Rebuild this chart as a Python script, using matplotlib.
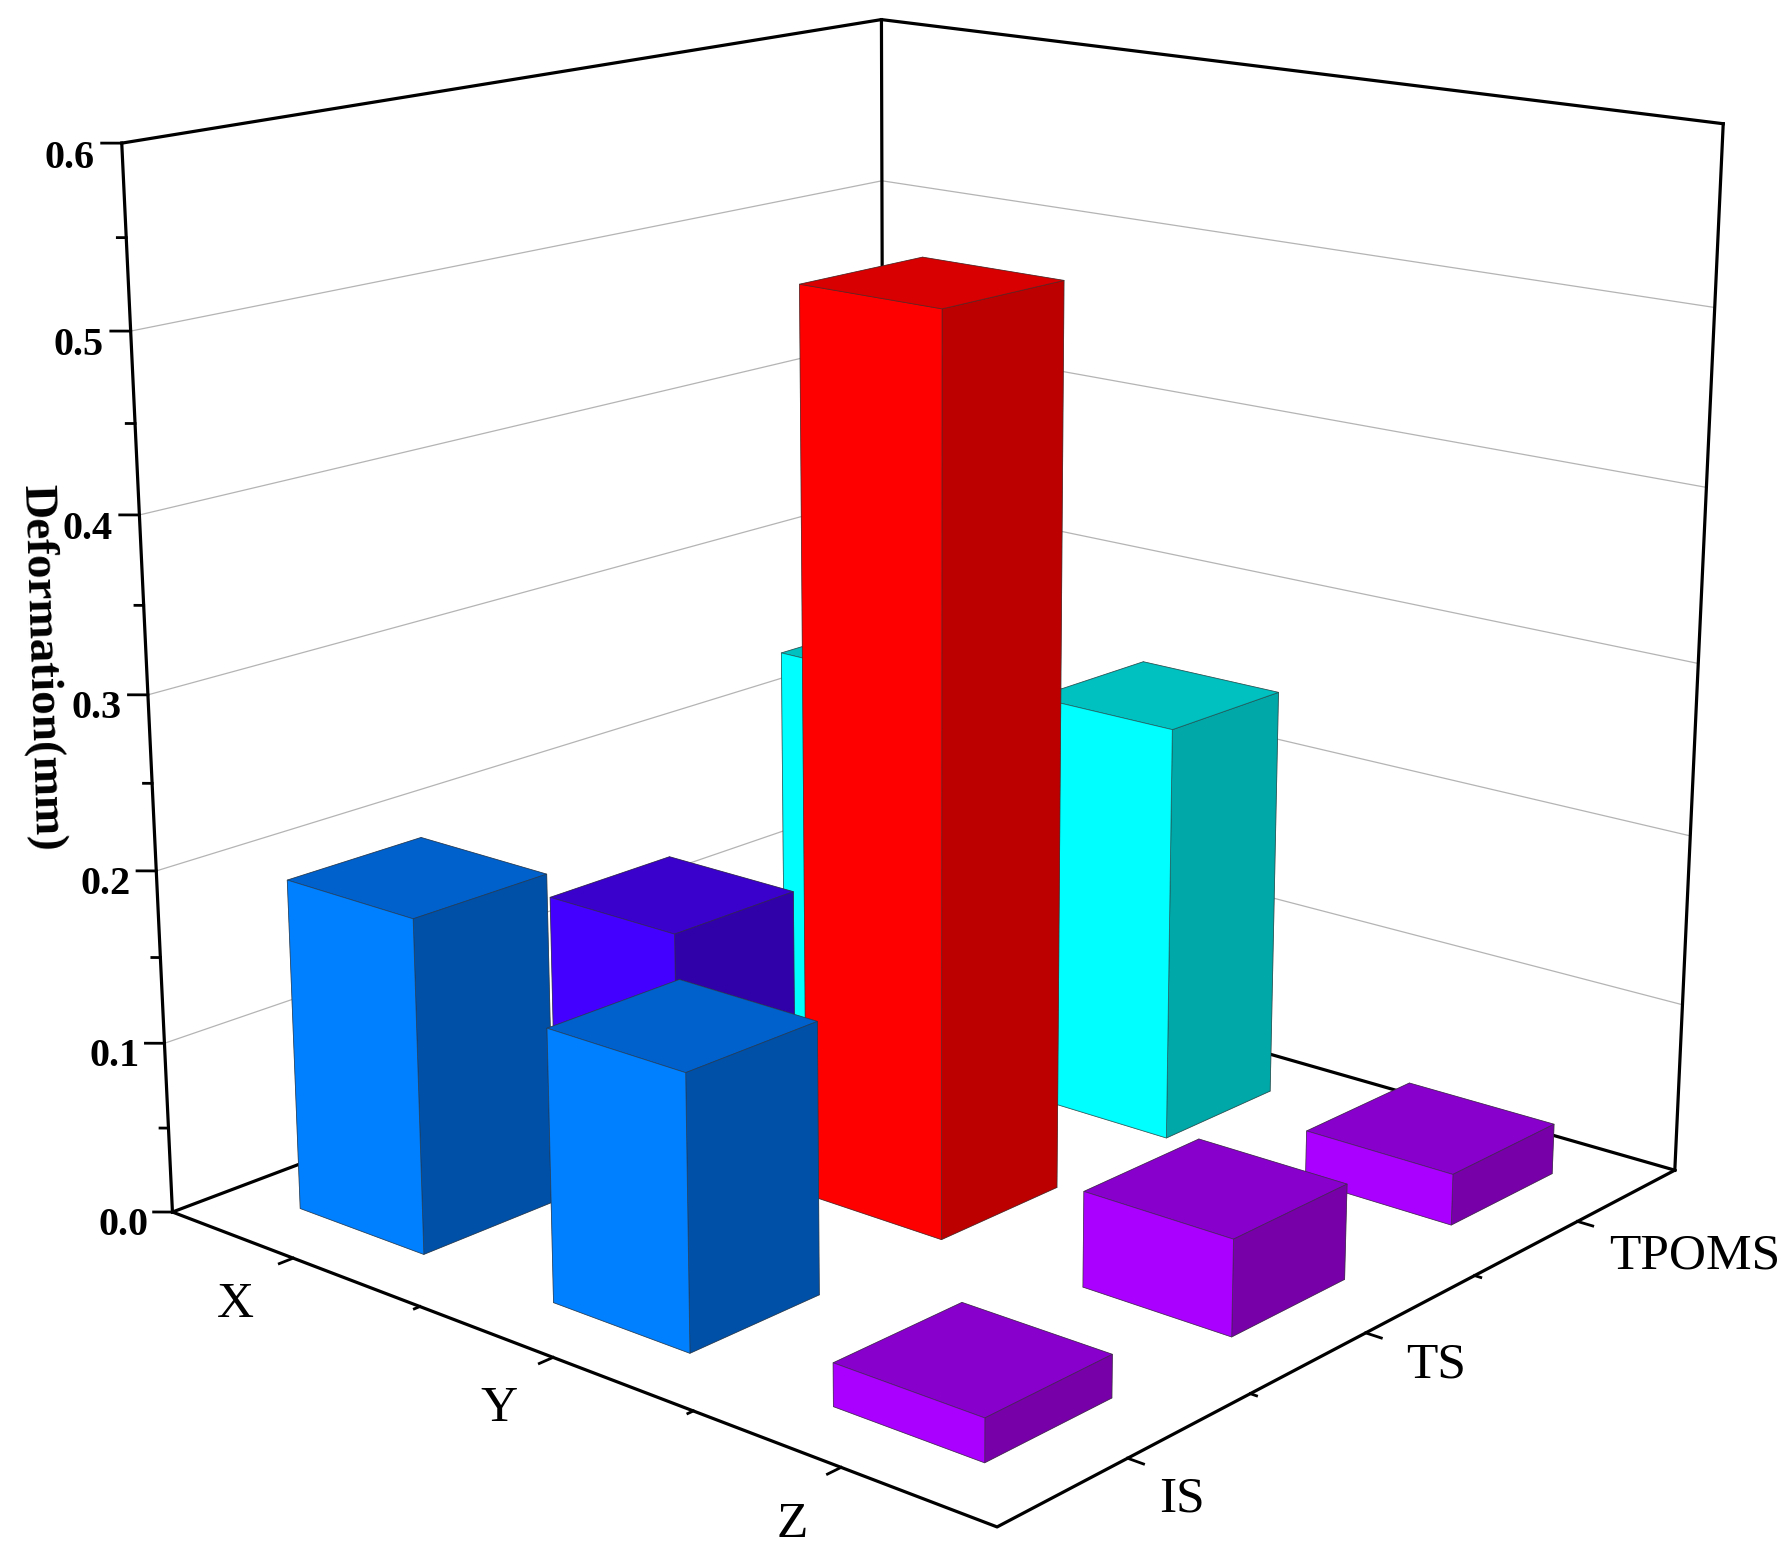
import matplotlib
matplotlib.use("Agg")
import matplotlib.pyplot as plt

plt.rcParams["font.family"] = ["Liberation Serif", "DejaVu Serif"]

# ── Data ──────────────────────────────────────────────────────
directions = ["X", "Y", "Z"]
structures = ["IS", "TS", "TPOMS"]
x_pos = [1, 2, 3]
y_pos = [1, 2, 3]
deform_x = [0.193, 0.132, 0.237]
deform_y = [0.155, 0.520, 0.247]
deform_z = [0.024, 0.055, 0.030]
z_major = [0.0, 0.1, 0.2, 0.3, 0.4, 0.5, 0.6]
z_minor = [0.05, 0.15, 0.25, 0.35, 0.45, 0.55]
x_minor = [1.5, 2.5]
y_minor = [1.5, 2.5]

# (front, top, side) colours for each bar
blue = ("#0080FF", "#0060CC", "#0050A8")
indigo = ("#4400FF", "#3A00CC", "#3000A8")
cyan = ("#00FFFF", "#00C0C0", "#00A8A8")
red = ("#FF0000", "#D80000", "#BC0000")
purple = ("#AA00FF", "#8800CC", "#7700A8")
colors_x = [blue, indigo, cyan]
colors_y = [blue, red, cyan]
colors_z = [purple, purple, purple]

bar_w = 0.5
xlim = (0.5, 3.5)
ylim = (0.5, 3.5)
zlim = (0.0, 0.6)

W = 1848  # axes size in pixels
fig = plt.figure(figsize=(17.84, 15.55), dpi=100)
cx, cy = 932, 679  # where the box centre lands (px from top left)
ax = fig.add_axes(
    [(cx - 0.5135 * W) / 1784, (1555 - cy - 0.5135 * W) / 1555, W / 1784, W / 1555],
    projection="3d",
    proj_type="persp",
    focal_length=0.475,
    computed_zorder=False,
)
ax.view_init(elev=16, azim=-49.2)
ax.set_box_aspect((1, 1, 1))
ax.set_xlim(*xlim)
ax.set_ylim(*ylim)
ax.set_zlim(*zlim)
ax.set_axis_off()
ax.patch.set_alpha(0)

# Grid on the back walls
for z in z_major[1:-1]:
    ax.plot([xlim[0], xlim[0], xlim[1]], [ylim[0], ylim[1], ylim[1]], [z, z, z],
            color="#b4b4b4", lw=0.9, zorder=1)

# Frame
frame_kw = dict(color="black", lw=2.3, zorder=2, solid_capstyle="projecting")
ax.plot([xlim[0], xlim[0]], [ylim[0], ylim[0]], zlim, **frame_kw)
ax.plot([xlim[0], xlim[0]], [ylim[1], ylim[1]], zlim, **frame_kw)
ax.plot([xlim[1], xlim[1]], [ylim[1], ylim[1]], zlim, **frame_kw)
ax.plot([xlim[0], xlim[0], xlim[1]], [ylim[0], ylim[1], ylim[1]], [zlim[1]] * 3, **frame_kw)
ax.plot([xlim[0], xlim[1], xlim[1]], [ylim[0], ylim[0], ylim[1]], [0, 0, 0], **frame_kw)
ax.plot([xlim[0], xlim[0], xlim[1]], [ylim[0], ylim[1], ylim[1]], [0, 0, 0], **frame_kw)

# Ticks
tick_kw = dict(color="black", lw=2.0, zorder=2)
for z in z_major:
    ax.plot([xlim[0], xlim[0] - 0.04], [ylim[0], ylim[0] - 0.034], [z, z], **tick_kw)
    ax.text(xlim[0] - 0.107, ylim[0] - 0.09, z - 0.008, f"{z:.1f}", fontsize=29, fontweight="bold",
            rotation=9, rotation_mode="anchor", ha="center", va="center", zorder=5)
for z in z_minor:
    ax.plot([xlim[0], xlim[0] - 0.018], [ylim[0], ylim[0] - 0.015], [z, z], **tick_kw)
for x, name in zip(x_pos, directions):
    ax.plot([x, x], [ylim[0], ylim[0] - 0.05], [0, 0], **tick_kw)
    ax.text(x + 0.12, ylim[0] - 0.31, 0, name, fontsize=37, ha="center", va="center", zorder=5)
for x in x_minor:
    ax.plot([x, x], [ylim[0], ylim[0] - 0.02], [0, 0], **tick_kw)
for y, name, dy in zip(y_pos, structures, [-0.13, -0.1, -0.15]):
    ax.plot([xlim[1], xlim[1] + 0.05], [y, y], [0, 0], **tick_kw)
    ax.text(xlim[1] + 0.2, y + dy, 0, name, fontsize=37, ha="left", va="center", zorder=5)
for y in y_minor:
    ax.plot([xlim[1], xlim[1] + 0.02], [y, y], [0, 0], **tick_kw)

# Bars, painted back to front
rows = [(x_pos[0], deform_x, colors_x), (x_pos[1], deform_y, colors_y), (x_pos[2], deform_z, colors_z)]
order = 3
for x, values, colors in rows:
    for j in [2, 1, 0]:
        front, top, side = colors[j]
        # face order: bottom, top, -y, +y, -x, +x
        faces = [front, top, front, front, front, side]
        ax.bar3d(x - bar_w / 2, y_pos[j] - bar_w / 2, 0, bar_w, bar_w, values[j],
                 color=faces, shade=False, edgecolor=(0.2, 0.2, 0.2, 0.6), linewidth=0.6, zorder=order)
        order += 0.01

fig.text(0.023, 0.5705, "Deformation(mm)", rotation=-88.2, fontsize=34, fontweight="bold",
         ha="center", va="center")

fig.savefig("out.png", dpi=100)
